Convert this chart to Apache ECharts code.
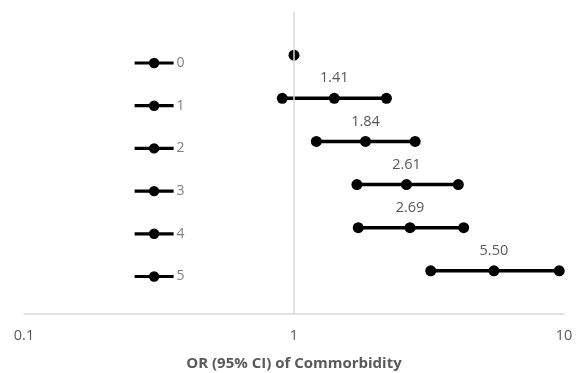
<!DOCTYPE html>
<html>
<head>
<meta charset="utf-8">
<script src="https://cdn.jsdelivr.net/npm/echarts@6/dist/echarts.min.js"></script>
<style>html,body{margin:0;padding:0;background:#fff}#c{width:583px;height:373px}</style>
</head>
<body>
<div id="c"></div>
<script>
var categories = ['0', '1', '2', '3', '4', '5'];
var rowPos = [6, 5, 4, 3, 2, 1];
var lowerCI = [null, 0.905, 1.21, 1.71, 1.73, 3.21];
var oddsRatio = [1.00, 1.41, 1.84, 2.61, 2.69, 5.50];
var upperCI = [null, 2.20, 2.81, 4.06, 4.25, 9.6];
var xTicks = [0.1, 1, 10];
var axisTitle = 'OR (95% CI) of Commorbidity';

var FONT = "'Open Sans', 'Noto Sans', sans-serif";
var series = categories.map(function (name, i) {
  var pts = [];
  if (lowerCI[i] != null) pts.push({ value: [lowerCI[i], rowPos[i]], label: { show: false } });
  pts.push({ value: [oddsRatio[i], rowPos[i]], label: { show: i > 0 } });
  if (upperCI[i] != null) pts.push({ value: [upperCI[i], rowPos[i]], label: { show: false } });
  var s = {
    name: name,
    type: 'line',
    data: pts,
    symbol: 'circle',
    symbolSize: 11,
    color: '#000',
    lineStyle: { color: '#000', width: 3.5 },
    itemStyle: { color: '#000' },
    label: {
      position: 'top', distance: 7,
      color: '#595959', fontSize: 14.5, fontFamily: FONT,
      formatter: function (p) { return p.value[0].toFixed(2); }
    },
    emphasis: { disabled: true },
    animation: false,
    z: 3
  };
  if (i === 0) {
    s.markLine = {
      silent: true, symbol: 'none', label: { show: false },
      lineStyle: { color: '#d9d9d9', width: 1.5, type: 'solid' },
      data: [{ xAxis: 1 }],
      animation: false
    };
  }
  return s;
});

var chart = echarts.init(document.getElementById('c'));
chart.setOption({
  backgroundColor: '#fff',
  animation: false,
  grid: { left: 24, right: 19, top: 12, bottom: 59, containLabel: false, outerBoundsMode: 'none' },
  legend: {
    orient: 'vertical', left: 128, top: 51,
    itemWidth: 39, itemHeight: 13, itemGap: 28.7,
    lineStyle: { width: 3.2, color: '#000' },
    itemStyle: { color: '#000' },
    textStyle: { color: '#7f7f7f', fontSize: 14, fontFamily: FONT, padding: [0, 0, 0, -2] },
    data: categories,
    selectedMode: false
  },
  xAxis: {
    type: 'log', logBase: 10, min: xTicks[0], max: xTicks[xTicks.length - 1],
    name: axisTitle, nameLocation: 'middle', nameGap: 42,
    nameTextStyle: { color: '#595959', fontSize: 15, fontWeight: 'bold', fontFamily: FONT },
    axisLine: { show: true, lineStyle: { color: '#d9d9d9', width: 1.5 } },
    axisTick: { show: false },
    splitLine: { show: false },
    minorTick: { show: false },
    axisLabel: { color: '#595959', fontSize: 14.5, fontFamily: FONT, margin: 14,
      formatter: function (v) { return String(v); } }
  },
  yAxis: {
    type: 'value', min: 0, max: 7, show: false, splitLine: { show: false }
  },
  series: series
});
</script>
</body>
</html>
